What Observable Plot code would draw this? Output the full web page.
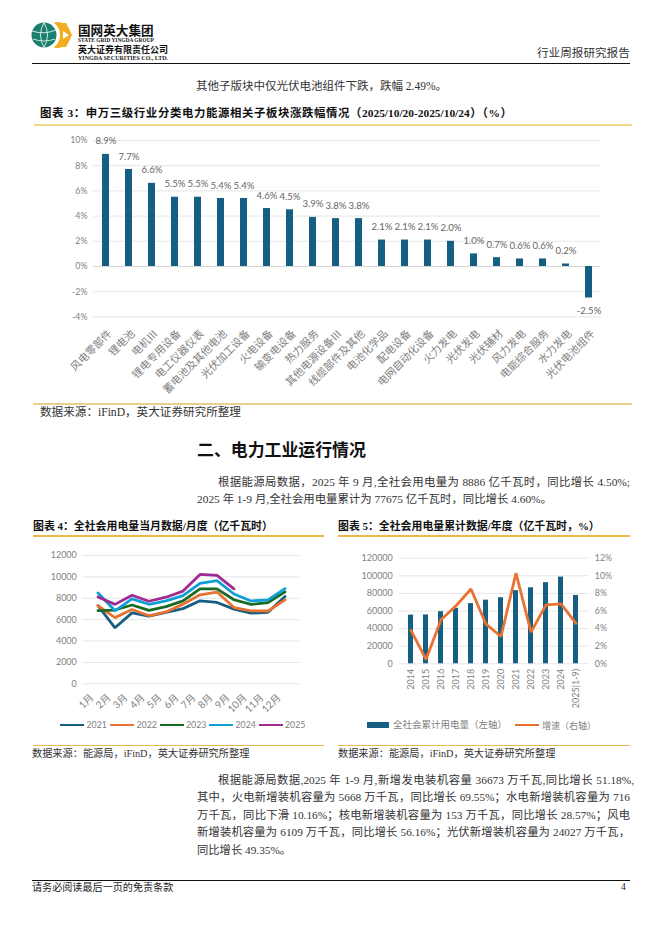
<!DOCTYPE html>
<html><head><meta charset="utf-8">
<script src="https://cdn.jsdelivr.net/npm/d3@7"></script>
<script src="https://cdn.jsdelivr.net/npm/@observablehq/plot@0.6"></script>
<style>
html,body{margin:0;padding:0;background:#fff}
#page{position:relative;width:662px;height:936px;overflow:hidden;background:#fff;
 font-family:"Liberation Serif","Noto Sans CJK SC",serif;color:#222}
.t{position:absolute;white-space:nowrap;line-height:1}
.j{position:absolute;white-space:nowrap;line-height:1;text-align:justify;text-align-last:justify}
.r{position:absolute}
.c{position:absolute}
.c svg{display:block;overflow:visible}
</style></head><body><div id="page"></div>
<script>
// Figure 3
const sectors=["风电零部件","锂电池","电机Ⅲ","锂电专用设备","电工仪器仪表","蓄电池及其他电池","光伏加工设备","火电设备","输变电设备","热力服务","其他电源设备Ⅲ","线缆部件及其他","电池化学品","配电设备","电网自动化设备","火力发电","光伏发电","光伏辅材","风力发电","电能综合服务","水力发电","光伏电池组件"];
const sectorChange=[8.9,7.7,6.6,5.5,5.5,5.4,5.4,4.6,4.5,3.9,3.8,3.8,2.1,2.1,2.1,2.0,1.0,0.7,0.6,0.6,0.2,-2.5];
// Figure 4
const months=["1月","2月","3月","4月","5月","6月","7月","8月","9月","10月","11月","12月"];
const years=["2021","2022","2023","2024","2025"];
const yearColors=["#156082","#e97132","#196b24","#0f9ed5","#a02b93"];
const use2021=[7310,5240,6630,6330,6690,7030,7760,7610,6980,6610,6690,8170];
const use2022=[7300,6190,6950,6360,6720,7450,8320,8580,7130,6830,6810,7850];
const use2023=[6840,6900,7370,6870,7220,7750,8880,8880,7860,7420,7600,8600];
const use2024=[8500,6830,7950,7440,7750,8250,9400,9650,8400,7750,7850,8900];
const use2025=[8120,7430,8280,7720,8100,8670,10230,10150,8886];
// Figure 5
const annualLabels=["2014","2015","2016","2017","2018","2019","2020","2021","2022","2023","2024","2025(1-9)"];
const annualUse=[55300,55500,59200,63000,68400,72300,75100,83100,86400,92200,98500,77675];
const annualGrowth=[3.8,0.5,5.0,6.6,8.5,4.5,3.1,10.3,3.6,6.7,6.8,4.6];

const page=document.getElementById("page");
const axisFont='Lato,"Noto Sans CJK SC",sans-serif';
function text(s,left,top,size,o={}){
  const d=document.createElement("div");
  d.className=o.width?"j":"t";
  d.textContent=s;
  Object.assign(d.style,{left:left+"px",top:(top-size/2)+"px",fontSize:size+"px"});
  if(o.width)d.style.width=o.width+"px";
  if(o.weight)d.style.fontWeight=o.weight;
  if(o.color)d.style.color=o.color;
  if(o.font)d.style.fontFamily=o.font;
  page.appendChild(d);return d;
}
function rule(x1,x2,y,h,color){
  const d=document.createElement("div");d.className="r";
  Object.assign(d.style,{left:x1+"px",width:(x2-x1)+"px",top:y+"px",height:h+"px",background:color});
  page.appendChild(d);
}
function mount(svg,left,top){
  const d=document.createElement("div");d.className="c";
  d.style.left=left+"px";d.style.top=top+"px";d.appendChild(svg);page.appendChild(d);
}

// Header
const logo=document.createElement("div");logo.className="c";logo.style.left="30px";logo.style.top="21px";
logo.innerHTML=`<svg width="44" height="28" viewBox="0 0 44 28">
<path d="M24 1.5 A13 13 0 1 1 24 26.5 A16 16 0 0 0 24 1.5Z" fill="#f0ae1e"/>
<path d="M24 2 L36 2 L42 14 L36 26 L24 26 A14 14 0 0 0 24 2Z" fill="#f0ae1e"/>
<path d="M33 10 L39 14 L33 18 Z" fill="#fff"/>
<circle cx="14" cy="14" r="12.5" fill="#1a7f6e"/>
<path d="M2 10 Q14 14 26 9 M3 18 Q14 22 25 18 M14 1.5 Q7 14 14 26.5 M14 1.5 Q21 14 14 26.5" fill="none" stroke="#dff0ea" stroke-width=".9"/>
</svg>`;
page.appendChild(logo);
text("国网英大集团",78,30,12.6,{weight:700,font:'"Noto Sans CJK SC",sans-serif',color:"#111"});
text("STATE GRID YINGDA GROUP",78,40.5,5.4,{weight:700,color:"#222"});
text("英大证券有限责任公司",78,49.3,9,{weight:700,font:'"Noto Sans CJK SC",sans-serif',color:"#111"});
text("YINGDA SECURITIES CO., LTD.",78,57.8,6,{weight:700,color:"#222"});
text("行业周报研究报告",537,54,11.6,{color:"#333"});
rule(32,630,63,1,"#111");

// Top paragraph and figure 3 heading
text("其他子版块中仅光伏电池组件下跌，跌幅 2.49%。",196,87,11.5,{color:"#333"});
text("图表 3：申万三级行业分类电力能源相关子板块涨跌幅情况（2025/10/20-2025/10/24）（%）",40,114,11.4,{weight:700,color:"#111",width:472});
rule(34,632,123.5,2,"#f2d88e");

// Figure 3 chart
const fig3=sectors.map((name,i)=>({name,value:sectorChange[i]}));
const pct=d=>d.value.toFixed(1)+"%";
mount(Plot.plot({
  width:620,height:300,marginLeft:73,marginRight:39.5,marginTop:10,marginBottom:113.6,
  style:{fontFamily:axisFont,fontSize:"10px",color:"#7f7f7f",background:"transparent"},
  x:{type:"band",domain:sectors,paddingInner:.71,paddingOuter:.355,label:null},
  y:{domain:[-4,10],label:null},
  marks:[
    Plot.gridY([-4,-2,2,4,6,8,10],{stroke:"#e6e6e6",strokeOpacity:1}),
    Plot.ruleY([0],{stroke:"#d4d4d4"}),
    Plot.barY(fig3,{x:"name",y:"value",fill:"#156082"}),
    Plot.text(fig3.filter(d=>d.value>=0),{x:"name",y:"value",text:pct,dy:-13,fill:"#666",fontSize:9.6}),
    Plot.text(fig3.filter(d=>d.value<0),{x:"name",y:"value",text:pct,dy:13,fill:"#666",fontSize:9.6}),
    Plot.axisY([-4,-2,0,2,4,6,8,10],{tickSize:0,tickPadding:6,tickFormat:d=>d+"%",fontSize:8.8,label:null}),
    Plot.axisX({tickSize:0,tickPadding:15,dx:4,tickRotate:-45,fontSize:10.6,label:null})
  ]
}),20,130);

rule(33,632,403,2,"#ecd08a");
text("数据来源：iFinD，英大证券研究所整理",40,413,11.6,{color:"#333"});

// Section
text("二、电力工业运行情况",197,449,16.9,{weight:700,font:'"Noto Sans CJK SC",sans-serif',color:"#111"});
text("根据能源局数据，2025 年 9 月,全社会用电量为 8886 亿千瓦时，同比增长 4.50%;",218,483,11.4,{width:412,color:"#333"});
text("2025 年 1-9 月,全社会用电量累计为 77675 亿千瓦时，同比增长 4.60%。",197,499.5,11.4,{color:"#333"});

// Figure 4
text("图表 4：全社会用电量当月数据/月度（亿千瓦时）",33,526.5,10.9,{weight:700,color:"#111"});
rule(33,324,535,1.6,"#e9b949");
const series4=[use2021,use2022,use2023,use2024,use2025];
const fig4=years.flatMap((year,k)=>series4[k].map((value,i)=>({year,month:months[i],value})));
mount(Plot.plot({
  width:310,height:170,marginLeft:62.3,marginRight:30.7,marginTop:10,marginBottom:31.7,
  style:{fontFamily:axisFont,fontSize:"10px",color:"#7f7f7f",background:"transparent"},
  x:{type:"band",domain:months,label:null},
  y:{domain:[0,12000],label:null},
  color:{domain:years,range:yearColors},
  marks:[
    Plot.gridY([0,2000,4000,6000,8000,10000,12000],{stroke:"#e6e6e6",strokeOpacity:1}),
    Plot.line(fig4,{x:"month",y:"value",z:"year",stroke:"year",strokeWidth:2.8,strokeLinejoin:"miter"}),
    Plot.axisY([0,2000,4000,6000,8000,10000,12000],{tickSize:0,tickPadding:6,fontSize:9,tickFormat:d=>String(d),label:null}),
    Plot.axisX({tickSize:0,tickPadding:12,dx:-6,tickRotate:-45,fontSize:10,label:null})
  ]
}),20,545);
// legend 4
const leg4x=[60,110,159.5,209,258.5];
years.forEach((y,i)=>{
  rule(leg4x[i],leg4x[i]+24,723.8,2.4,yearColors[i]);
  text(y,leg4x[i]+26.5,725,8.8,{color:"#7f7f7f",font:axisFont});
});
rule(33,324,745,.8,"#e9b949");
text("数据来源：能源局，iFinD，英大证券研究所整理",32,754.5,10.2,{color:"#333"});

// Figure 5
text("图表 5：全社会用电量累计数据/年度（亿千瓦时，%）",338,526.5,10.9,{weight:700,color:"#111"});
rule(338,630,535,1.6,"#e9b949");
const fig5=annualLabels.map((label,i)=>({label,use:annualUse[i],growth:annualGrowth[i]}));
const axisRatio=120000/12;
mount(Plot.plot({
  width:300,height:170,marginLeft:68.3,marginRight:41.7,marginTop:12.7,marginBottom:51.7,
  style:{fontFamily:axisFont,fontSize:"10px",color:"#7f7f7f",background:"transparent"},
  x:{type:"band",domain:annualLabels,paddingInner:.66,paddingOuter:.33,label:null},
  y:{domain:[0,120000],label:null},
  marks:[
    Plot.gridY([0,20000,40000,60000,80000,100000,120000],{stroke:"#e6e6e6",strokeOpacity:1}),
    Plot.barY(fig5,{x:"label",y:"use",fill:"#156082"}),
    Plot.line(fig5,{x:"label",y:d=>d.growth*axisRatio,stroke:"#e97132",strokeWidth:2.8,strokeLinejoin:"miter"}),
    Plot.axisY([0,20000,40000,60000,80000,100000,120000],{tickSize:0,tickPadding:6,fontSize:9,tickFormat:d=>String(d),label:null}),
    Plot.axisY([0,20000,40000,60000,80000,100000,120000],{anchor:"right",tickSize:0,tickPadding:6,fontSize:8.8,tickFormat:d=>d/axisRatio+"%",label:null}),
    Plot.axisX({tickSize:0,tickPadding:5,tickRotate:-90,fontSize:9,label:null})
  ]
}),330,545);
// legend 5
rule(367,389,722,6,"#156082");
text("全社会累计用电量（左轴）",393,725,9.5,{color:"#7f7f7f",font:axisFont});
rule(515,539,723.8,2.4,"#e97132");
text("增速（右轴）",542,725,9,{color:"#7f7f7f",font:axisFont});
rule(338,630,745,.8,"#e9b949");
text("数据来源：能源局，iFinD，英大证券研究所整理",338,754.5,10.2,{color:"#333"});

// Bottom paragraph
const para=[
 ["根据能源局数据,2025 年 1-9 月,新增发电装机容量 36673 万千瓦,同比增长 51.18%,",218,780.5,416],
 ["其中，火电新增装机容量为 5668 万千瓦，同比增长 69.55%；水电新增装机容量为 716",197,798,433],
 ["万千瓦，同比下滑 10.16%；核电新增装机容量为 153 万千瓦，同比增长 28.57%；风电",197,815.5,433],
 ["新增装机容量为 6109 万千瓦，同比增长 56.16%；光伏新增装机容量为 24027 万千瓦，",197,833,433]
];
para.forEach(([s,x,y,w])=>text(s,x,y,11.3,{width:w,color:"#333"}));
text("同比增长 49.35%。",197,850.5,11.3,{color:"#333"});

// Footer
rule(32,630,880,1,"#111");
text("请务必阅读最后一页的免责条款",32,888,10.1,{color:"#222"});
text("4",621,888,9.5,{color:"#222"});
</script></body></html>
